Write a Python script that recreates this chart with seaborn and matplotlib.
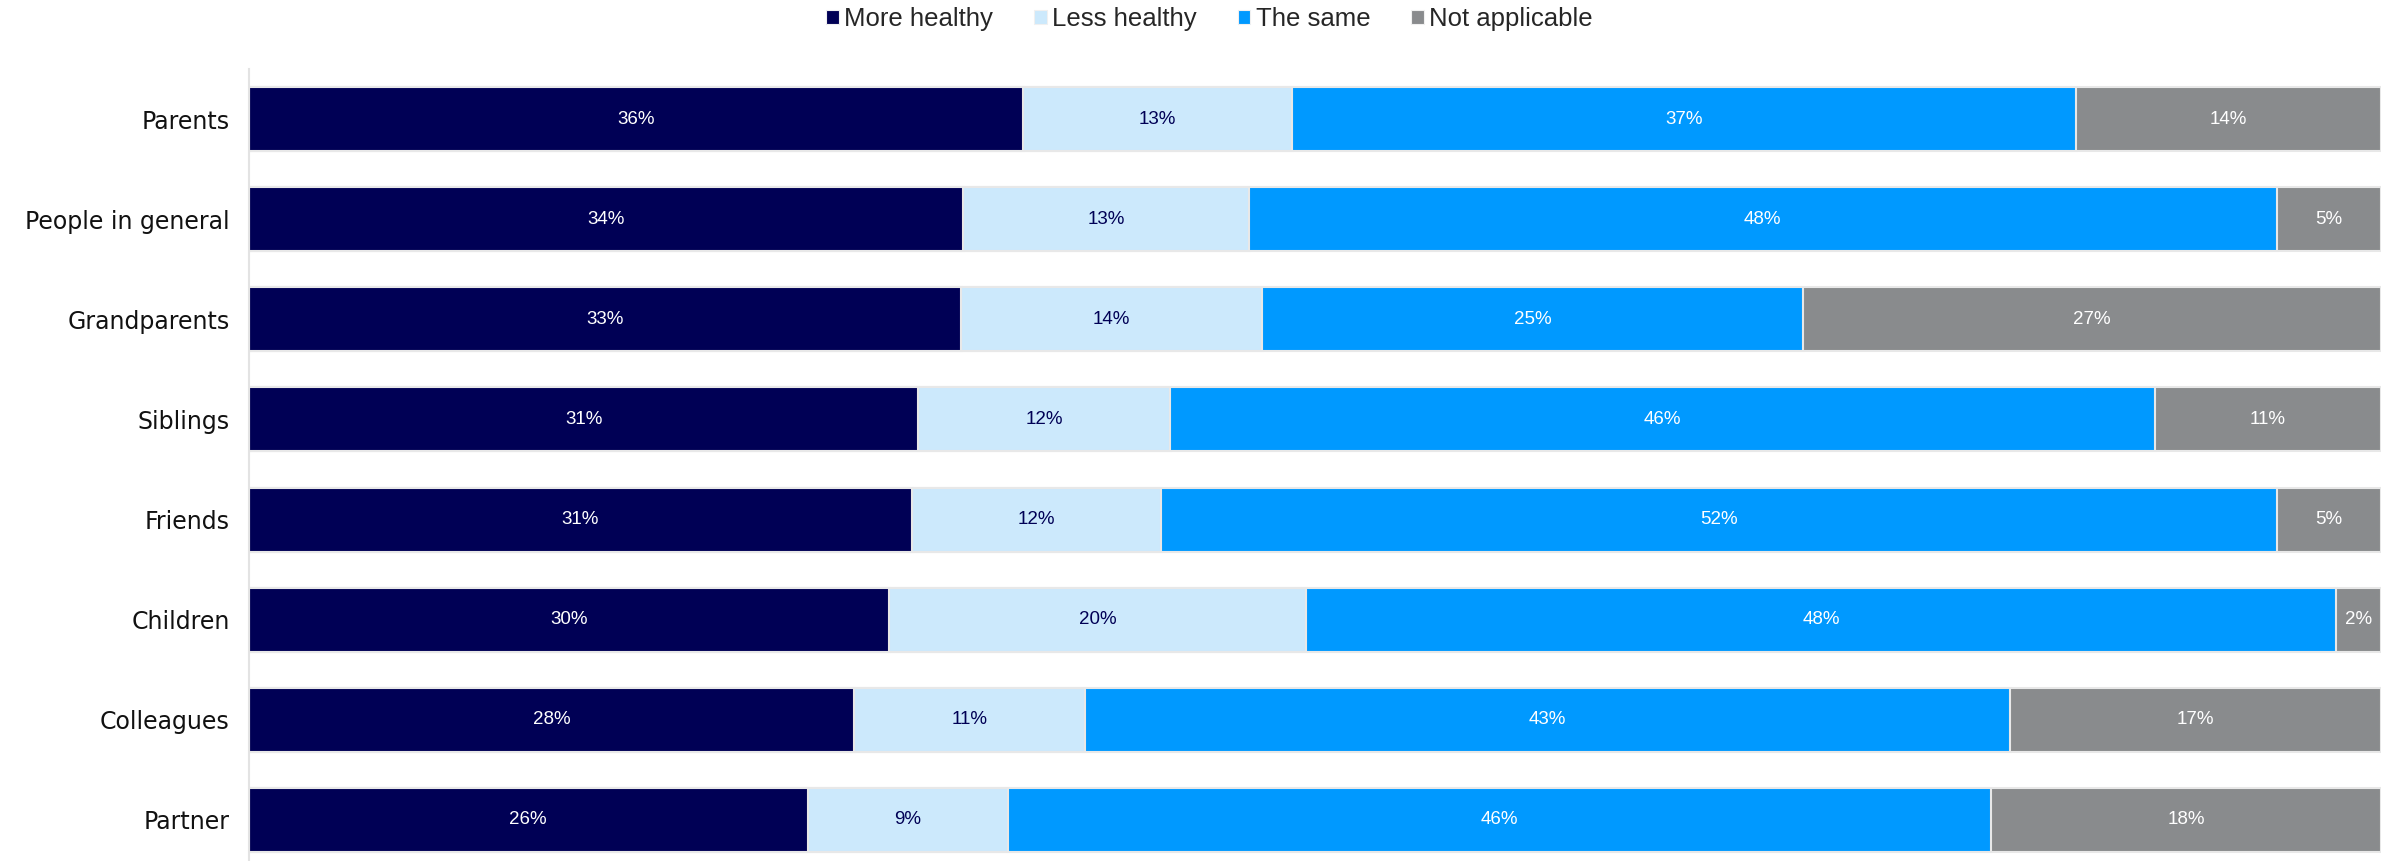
import matplotlib
matplotlib.use("Agg")
import matplotlib.pyplot as plt
import seaborn as sns
import pandas as pd
import numpy as np
from matplotlib.patches import Patch

groups = ["Parents", "People in general", "Grandparents", "Siblings",
          "Friends", "Children", "Colleagues", "Partner"]
series = ["More healthy", "Less healthy", "The same", "Not applicable"]

more_healthy = [36.3, 33.5, 33.4, 31.4, 31.1, 30.0, 28.4, 26.2]
less_healthy = [12.6, 13.4, 14.1, 11.8, 11.7, 19.6, 10.8, 9.4]
the_same = [36.8, 48.2, 25.4, 46.2, 52.3, 48.3, 43.4, 46.1]
not_applicable = [14.3, 4.9, 27.1, 10.6, 4.9, 2.1, 17.4, 18.3]

colors = ["#000055", "#cce9fc", "#0099ff", "#898b8d"]
text_colors = ["white", "#000055", "white", "white"]

values = np.array([more_healthy, less_healthy, the_same, not_applicable])
cum = np.cumsum(values, axis=0)

rows = []
for s_i, s in enumerate(series):
    for g_i, g in enumerate(groups):
        rows.append({"group": g, "series": s, "value": values[s_i, g_i],
                     "end": cum[s_i, g_i], "start": cum[s_i, g_i] - values[s_i, g_i]})
df = pd.DataFrame(rows)

sns.set_theme(style="white")
plt.rcParams["font.family"] = ["Liberation Sans", "DejaVu Sans"]

fig = plt.figure(figsize=(23.9, 8.61), dpi=100)
ax = fig.add_axes([249 / 2390, -9 / 861, (2381 - 249) / 2390, (870 - 69) / 861])

# Stack by drawing cumulative totals from the outermost segment inward
for s_i in reversed(range(len(series))):
    sub = df[df["series"] == series[s_i]]
    sns.barplot(data=sub, y="group", x="end", order=groups, orient="h",
                color=colors[s_i], saturation=1, width=0.64,
                edgecolor="#e8e8e8", linewidth=1.5, ax=ax)

for _, r in df.iterrows():
    s_i = series.index(r["series"])
    y = groups.index(r["group"])
    ax.text((r["start"] + r["end"]) / 2, y, f"{r['value']:.0f}%",
            ha="center", va="center", fontsize=13.5, color=text_colors[s_i])

ax.set_xlim(0, 100)
ax.set_ylim(7.5, -0.5)
ax.set_xlabel("")
ax.set_ylabel("")
ax.set_xticks([])
ax.tick_params(axis="y", length=0, pad=14)
for lbl in ax.get_yticklabels():
    lbl.set_color("#111111")
    lbl.set_fontfamily(["DejaVu Sans"])
    lbl.set_fontsize(17)
for side in ["top", "right", "bottom"]:
    ax.spines[side].set_visible(False)
ax.spines["left"].set_color("#e3e3e3")
ax.spines["left"].set_linewidth(1.5)

handles = [Patch(facecolor=c, edgecolor="#f0f0f0", linewidth=0.8) for c in colors]
fig.legend(handles, series, loc="center", bbox_to_anchor=(0.506, 1 - 19 / 861),
           ncol=4, frameon=False, fontsize=18.5, handlelength=0.5, handleheight=0.5,
           handletextpad=0.2, columnspacing=1.6)

fig.savefig("out.png", dpi=100)
